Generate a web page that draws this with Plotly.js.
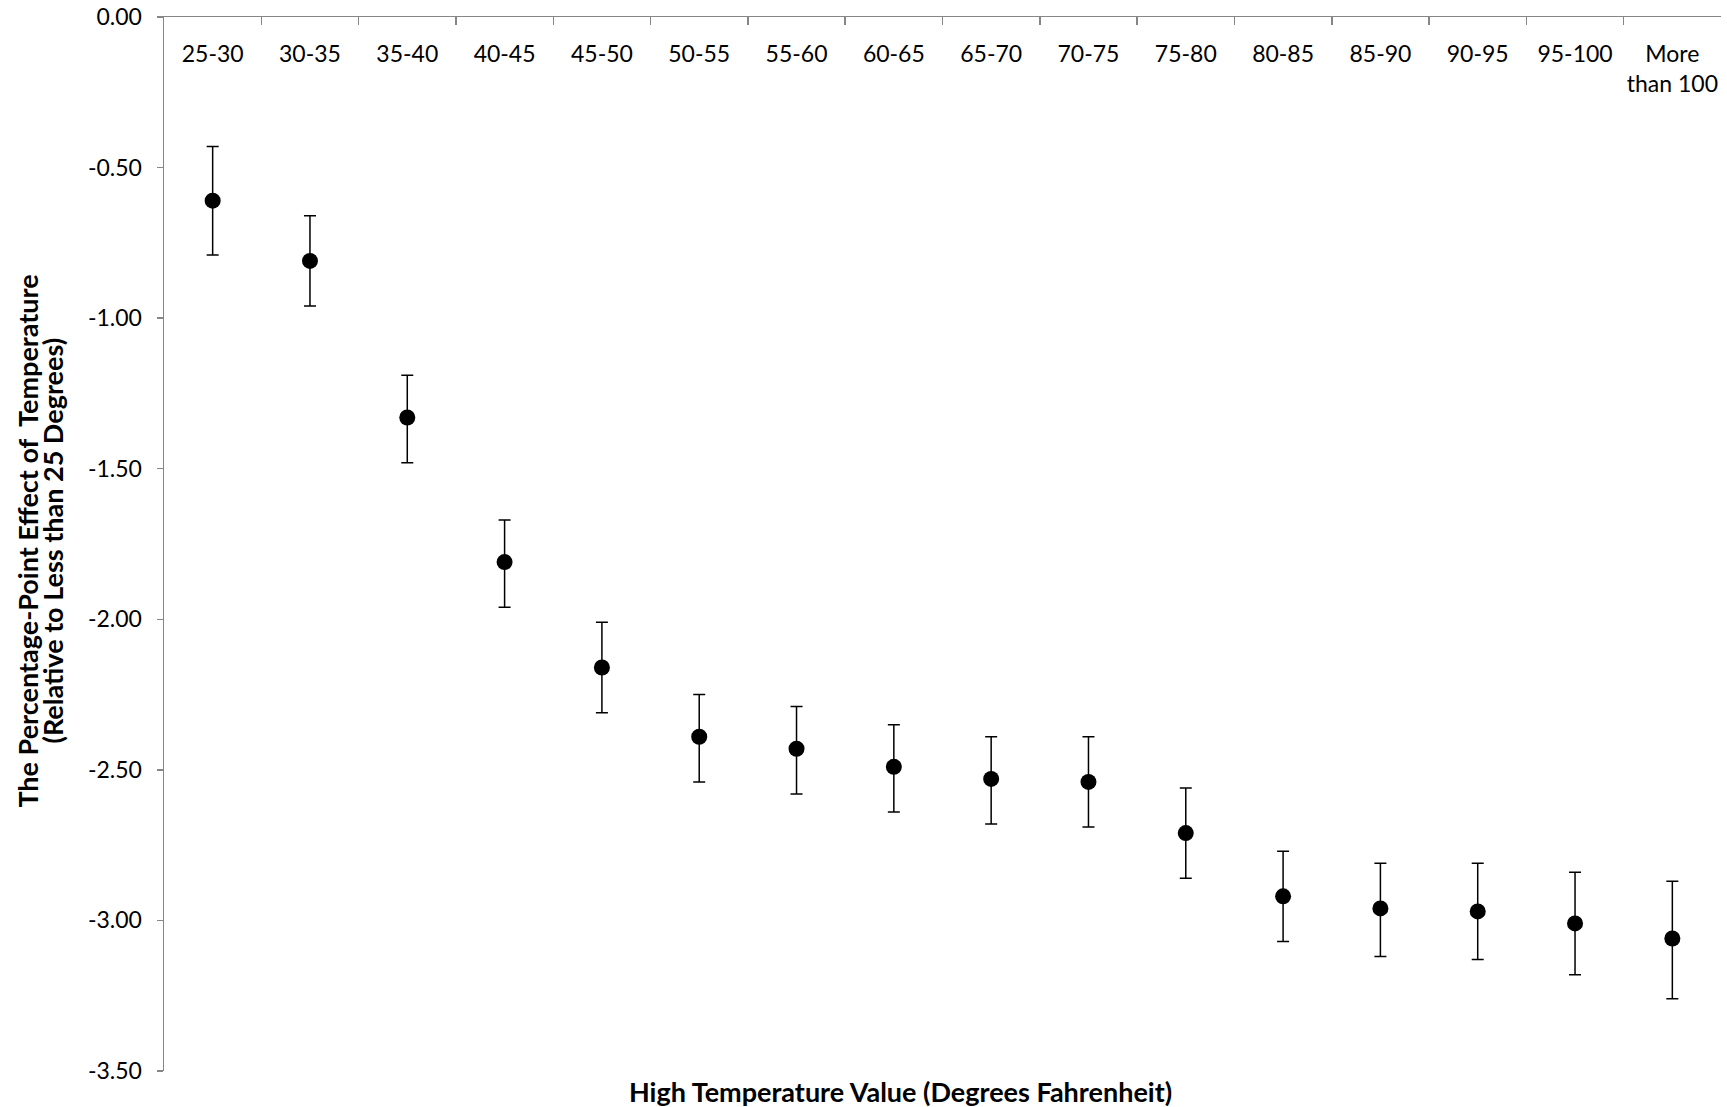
<!DOCTYPE html>
<html>
<head>
<meta charset="utf-8">
<script src="https://cdn.plot.ly/plotly-3.0.1.min.js"></script>
<style>html,body{margin:0;padding:0;background:#fff;}#chart{width:1727px;height:1107px;}</style>
</head>
<body>
<div id="chart"></div>
<script>
const categories = ["25-30","30-35","35-40","40-45","45-50","50-55","55-60","60-65","65-70","70-75","75-80","80-85","85-90","90-95","95-100","More<br>than 100"];
const estimates = [-0.61,-0.81,-1.33,-1.81,-2.16,-2.39,-2.43,-2.49,-2.53,-2.54,-2.71,-2.92,-2.96,-2.97,-3.01,-3.06];
const upperBound = [-0.43,-0.66,-1.19,-1.67,-2.01,-2.25,-2.29,-2.35,-2.39,-2.39,-2.56,-2.77,-2.81,-2.81,-2.84,-2.87];
const lowerBound = [-0.79,-0.96,-1.48,-1.96,-2.31,-2.54,-2.58,-2.64,-2.68,-2.69,-2.86,-3.07,-3.12,-3.13,-3.18,-3.26];
const yTicks = [0,-0.5,-1,-1.5,-2,-2.5,-3,-3.5];
const yTickLabels = ["0.00","-0.50","-1.00","-1.50","-2.00","-2.50","-3.00","-3.50"];
const yTitleLines = ["The Percentage-Point Effect of  Temperature","(Relative to Less than 25 Degrees)"];
const xTitle = "High Temperature Value (Degrees Fahrenheit)";

const plus = estimates.map((v,i)=>upperBound[i]-v);
const minus = estimates.map((v,i)=>v-lowerBound[i]);

const FONT = "Lato, 'Open Sans', sans-serif";

const trace = {
  type: "scatter",
  mode: "markers",
  x: categories,
  y: estimates,
  marker: {color: "#000", size: 16, symbol: "circle"},
  error_y: {type: "data", symmetric: false, array: plus, arrayminus: minus, color: "#000", thickness: 1.5, width: 6},
  showlegend: false,
  hoverinfo: "x+y"
};
// invisible twin on the label axis, so the category labels sit inside under the top line
const labelTrace = {
  type: "scatter", mode: "markers",
  x: categories, y: estimates,
  xaxis: "x2", yaxis: "y",
  marker: {opacity: 0, size: 1},
  showlegend: false, hoverinfo: "skip"
};

const layout = {
  width: 1727, height: 1107,
  paper_bgcolor: "#fff", plot_bgcolor: "#fff",
  margin: {l: 164, r: 6, t: 17, b: 36},
  font: {family: FONT, size: 22, color: "#000"},
  xaxis: {
    type: "category",
    side: "top",
    showline: true, linecolor: "#868686", linewidth: 1.5,
    ticks: "inside", ticklen: 8, tickcolor: "#868686", tickwidth: 1.5,
    tickson: "boundaries",
    showticklabels: false,
    showgrid: false, zeroline: false,
    range: [-0.5, 15.5]
  },
  xaxis2: {
    type: "category",
    overlaying: "x",
    anchor: "free", position: 1,
    side: "bottom",
    showline: false,
    ticks: "outside", ticklen: 16, tickcolor: "rgba(0,0,0,0)",
    showgrid: false, zeroline: false,
    tickfont: {family: FONT, size: 23, color: "#000"},
    range: [-0.5, 15.5]
  },
  yaxis: {
    range: [-3.5, 0],
    tickvals: yTicks,
    ticktext: yTickLabels,
    showline: true, linecolor: "#868686", linewidth: 1.5,
    ticks: "outside", ticklen: 6, tickcolor: "#868686", tickwidth: 1.5,
    ticklabelstandoff: 10,
    showgrid: false, zeroline: false,
    tickfont: {family: FONT, size: 23, color: "#000"}
  },
  annotations: [
    {
      text: "<b>" + xTitle + "</b>",
      xref: "paper", yref: "paper", x: 0.473, y: -0.019,
      xanchor: "center", yanchor: "middle",
      showarrow: false,
      font: {family: FONT, size: 27, color: "#000"}
    },
    {
      text: "<b>" + yTitleLines[0] + "</b>",
      xref: "paper", yref: "paper", x: -0.0875, y: 0.503,
      xanchor: "center", yanchor: "middle", textangle: -90,
      showarrow: false,
      font: {family: FONT, size: 27, color: "#000"}
    },
    {
      text: "<b>" + yTitleLines[1] + "</b>",
      xref: "paper", yref: "paper", x: -0.0715, y: 0.503,
      xanchor: "center", yanchor: "middle", textangle: -90,
      showarrow: false,
      font: {family: FONT, size: 27, color: "#000"}
    }
  ]
};

Plotly.newPlot("chart", [trace, labelTrace], layout, {displayModeBar: false, staticPlot: true});
</script>
</body>
</html>
